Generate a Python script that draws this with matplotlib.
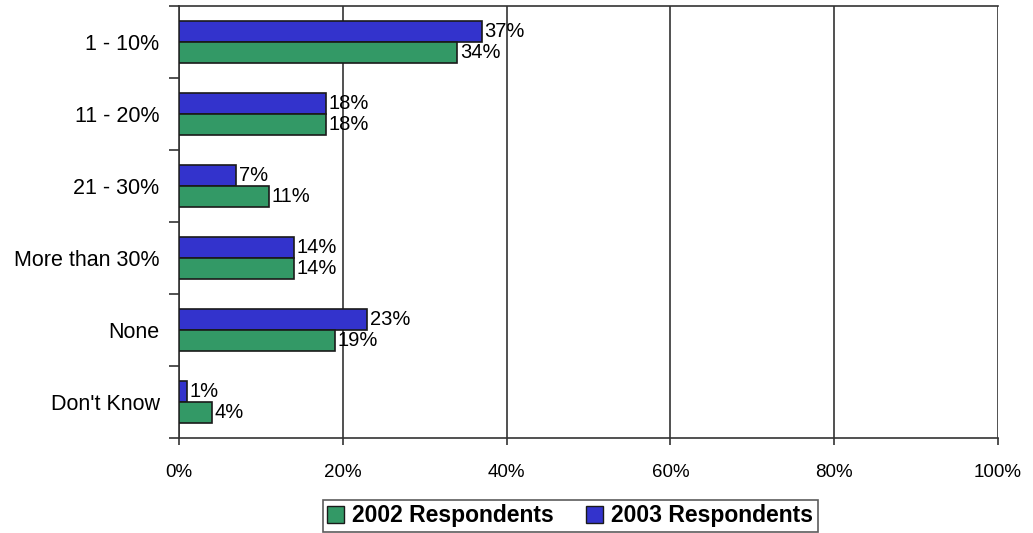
import numpy as np
import matplotlib.pyplot as plt
from matplotlib.patches import Patch

categories = ["1 - 10%", "11 - 20%", "21 - 30%", "More than 30%", "None", "Don't Know"]
resp_2002 = [34, 18, 11, 14, 19, 4]
resp_2003 = [37, 18, 7, 14, 23, 1]
xticks = [0, 20, 40, 60, 80, 100]

green = "#339966"
blue = "#3333CC"

plt.rcParams["font.family"] = ["Liberation Sans", "DejaVu Sans"]

fig = plt.figure(figsize=(10.33, 5.33), dpi=100)
ax = fig.add_axes([0.1733, 0.1782, 0.9661 - 0.1733, 0.9887 - 0.1782])

y = np.arange(len(categories))
h = 0.29
ax.barh(y - h / 2, resp_2003, height=h, color=blue, edgecolor="#1a1a1a", linewidth=1.2, zorder=3)
ax.barh(y + h / 2, resp_2002, height=h, color=green, edgecolor="#1a1a1a", linewidth=1.2, zorder=3)

for i in range(len(categories)):
    ax.text(resp_2003[i] + 0.3, y[i] - h / 2, f"{resp_2003[i]}%", va="center", ha="left",
            fontsize=14.5, zorder=4)
    ax.text(resp_2002[i] + 0.3, y[i] + h / 2, f"{resp_2002[i]}%", va="center", ha="left",
            fontsize=14.5, zorder=4)

ax.set_xlim(0, 100)
ax.set_ylim(len(categories) - 0.5, -0.5)

ax.set_xticks(xticks, labels=[f"{v}%" for v in xticks])
ax.tick_params(axis="x", length=5, width=1.2, pad=14, labelsize=13.5, color="#333333")
ax.set_yticks(np.arange(len(categories) + 1) - 0.5, labels=[""] * (len(categories) + 1))
ax.set_yticks(y, labels=categories, minor=True)
ax.tick_params(axis="y", which="major", length=7, width=1.2, color="#333333")
ax.tick_params(axis="y", which="minor", length=0, pad=14, labelsize=15.5)

ax.grid(axis="x", color="#333333", linewidth=1.2, zorder=1)
for s in ["left", "bottom", "top"]:
    ax.spines[s].set_color("#333333")
    ax.spines[s].set_linewidth(1.2)
ax.spines["right"].set_visible(False)

handles = [Patch(facecolor=green, edgecolor="#1a1a1a", label="2002 Respondents"),
           Patch(facecolor=blue, edgecolor="#1a1a1a", label="2003 Respondents")]
leg = fig.legend(handles=handles, loc="center", bbox_to_anchor=(0.552, 0.032), ncol=2,
                 prop={"weight": "bold", "size": 16.5}, frameon=True, fancybox=False,
                 edgecolor="#333333", handlelength=0.75, handleheight=0.75,
                 handletextpad=0.35, columnspacing=1.4, borderpad=0.2, borderaxespad=0.3)
leg.get_frame().set_linewidth(1.2)

fig.savefig("out.png", dpi=100)
